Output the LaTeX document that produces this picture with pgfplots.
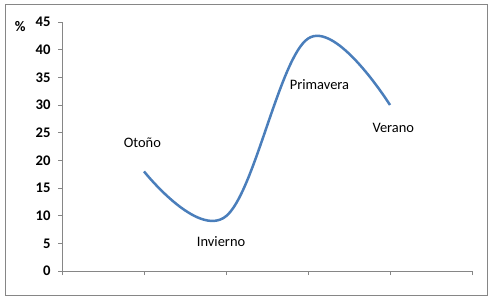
\documentclass[border=0pt]{standalone}
\usepackage{pgfplots}
\pgfplotsset{compat=1.18}
\usepackage{fontspec}
\setmainfont{Carlito}
\definecolor{linec}{HTML}{4A7EBB}
\definecolor{axc}{HTML}{868686}
\begin{document}
\begin{tikzpicture}[x=1bp,y=1bp]
\begin{axis}[
  at={(0,0)}, anchor=origin,
  scale only axis, width=410bp, height=249bp,
  xmin=0, xmax=5, ymin=0, ymax=45,
  xtick={0,1,2,3,4,5}, xticklabels={},
  ytick={0,5,...,45},
  axis x line*=bottom, axis y line*=left,
  axis line style={axc, line width=0.8bp, -},
  tick style={axc, line width=0.8bp},
  tick align=outside, major tick length=4bp,
  tick label style={font=\fontsize{14.7}{17}\selectfont\bfseries},
  /pgf/number format/assume math mode=true,
  yticklabel style={xshift=-4bp},
  clip=false,
]
\addplot[linec, line width=2.5bp, smooth, tension=0.62] coordinates {(1,18) (2,9.9) (3,42) (4,30)};
\node[font=\fontsize{14.5}{17}\selectfont] at (axis cs:0.98,23.2) {Otoño};
\node[font=\fontsize{14.5}{17}\selectfont] at (axis cs:1.94,5.3) {Invierno};
\node[font=\fontsize{14.5}{17}\selectfont] at (axis cs:3.14,33.6) {Primavera};
\node[font=\fontsize{14.5}{17}\selectfont] at (axis cs:4.04,25.9) {Verano};
\node[font=\fontsize{14.7}{17}\selectfont\bfseries] at (axis cs:-0.51,44.2) {\%};
\end{axis}
\draw[axc, line width=1bp] (-56,-24) rectangle (425,266);
\useasboundingbox (-62,-32) rectangle (432,271);
\end{tikzpicture}
\end{document}
